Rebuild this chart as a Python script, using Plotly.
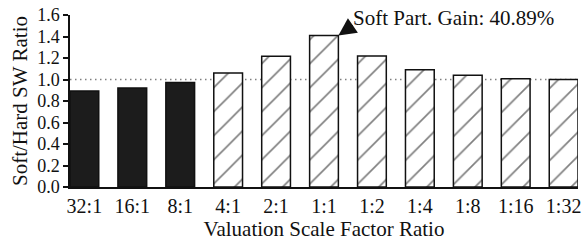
import plotly.graph_objects as go

categories = ["32:1", "16:1", "8:1", "4:1", "2:1", "1:1", "1:2", "1:4", "1:8", "1:16", "1:32"]
ratios = [0.894, 0.921, 0.973, 1.061, 1.216, 1.409, 1.219, 1.091, 1.040, 1.008, 1.000]
hard_side = [True, True, True, False, False, False, False, False, False, False, False]
y_ticks = [0.0, 0.2, 0.4, 0.6, 0.8, 1.0, 1.2, 1.4, 1.6]
gain_label = "Soft Part. Gain: 40.89%"
peak_index = 5

FONT = "Liberation Serif, Times New Roman, serif"

idx = list(range(len(categories)))
hard_x = [i for i in idx if hard_side[i]]
hard_y = [ratios[i] for i in idx if hard_side[i]]
soft_x = [i for i in idx if not hard_side[i]]
soft_y = [ratios[i] for i in idx if not hard_side[i]]

fig = go.Figure()
fig.add_trace(go.Bar(
    x=hard_x, y=hard_y, width=0.6,
    marker=dict(color="#1c1c1c", line=dict(color="#111", width=1.5)),
    showlegend=False, hoverinfo="skip",
))
fig.add_trace(go.Bar(
    x=soft_x, y=soft_y, width=0.6,
    marker=dict(
        color="white",
        line=dict(color="#111", width=1.5),
        pattern=dict(shape="/", fgcolor="#000", bgcolor="white", size=17, solidity=0.1),
    ),
    showlegend=False, hoverinfo="skip",
))

fig.add_shape(type="line", xref="paper", yref="y", x0=0, x1=1, y0=1.0, y1=1.0,
              line=dict(color="#808080", width=1.5, dash="1.5px,3.5px"), layer="below")

# arrow pointing to the top-right corner of the peak bar
fig.add_annotation(x=peak_index + 0.3, y=ratios[peak_index], xref="x", yref="y",
                   text="", showarrow=True, ax=16, ay=-11, arrowhead=2, arrowsize=2.2,
                   arrowwidth=1.6, arrowcolor="#111", standoff=0)
fig.add_annotation(x=peak_index + 0.3, y=ratios[peak_index], xref="x", yref="y",
                   text=gain_label, showarrow=False, xanchor="left", yanchor="middle",
                   xshift=13, yshift=18, font=dict(family=FONT, size=21, color="#111"))

fig.update_layout(
    width=586, height=243,
    margin=dict(l=70, r=5, t=12, b=56),
    paper_bgcolor="white", plot_bgcolor="white",
    barmode="overlay",
    font=dict(family=FONT, color="#111"),
)
fig.update_xaxes(
    range=[-0.3, 10.3],
    tickmode="array", tickvals=idx, ticktext=categories,
    tickfont=dict(family=FONT, size=20, color="#111"),
    showline=True, linecolor="#111", linewidth=1.5, ticks="", showgrid=False, zeroline=False,
    title=dict(text="Valuation Scale Factor Ratio", font=dict(family=FONT, size=21, color="#111"), standoff=6),
)
fig.update_yaxes(
    range=[0, 1.6],
    tickmode="array", tickvals=y_ticks, ticktext=[f"{v:.1f}" for v in y_ticks],
    tickfont=dict(family=FONT, size=18, color="#111"),
    showline=True, linecolor="#111", linewidth=1.5, ticks="outside", ticklen=5, tickcolor="#111",
    tickwidth=1.5, showgrid=False, zeroline=False,
    title=dict(text="Soft/Hard SW Ratio", font=dict(family=FONT, size=21, color="#111"), standoff=4),
)

fig.write_html("out.html", config={"displayModeBar": False},
               post_script="document.body.style.margin='0';")
